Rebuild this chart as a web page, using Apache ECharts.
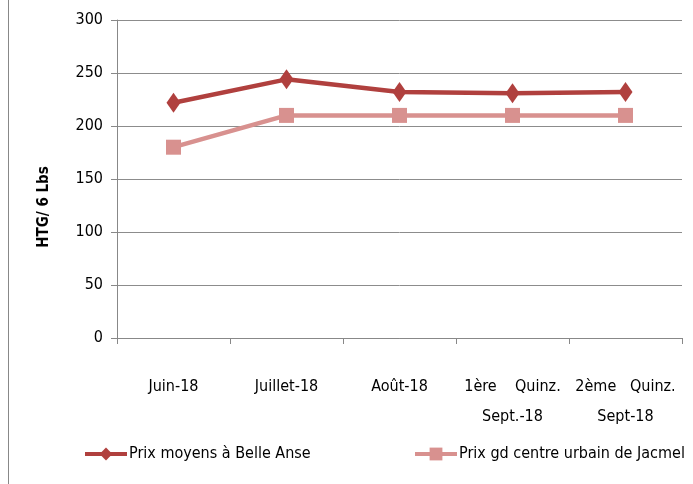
<!DOCTYPE html>
<html>
<head>
<meta charset="utf-8">
<script src="https://cdn.jsdelivr.net/npm/echarts@6/dist/echarts.min.js"></script>
<style>
html, body { margin: 0; padding: 0; background: #fff; }
#chart { width: 693px; height: 484px; }
</style>
</head>
<body>
<div id="chart"></div>
<script>
var categories = ['Juin-18', 'Juillet-18', 'Août-18', '1ère    Quinz.\nSept.-18', '2ème   Quinz.\nSept-18'];
var belleAnse = [222, 244, 232, 231, 232];
var jacmel = [180, 210, 210, 210, 210];
var seriesNames = ['Prix moyens à Belle Anse', 'Prix gd centre urbain de Jacmel'];
var yAxisTitle = 'HTG/ 6 Lbs';

var font = '"DejaVu Sans Condensed", "Liberation Sans", sans-serif';
var chart = echarts.init(document.getElementById('chart'));

function legendAt(name, left) {
	return {
		data: [name],
		top: 441,
		left: left,
		itemWidth: 42,
		itemHeight: 16,
		lineStyle: { width: 4 },
		textStyle: { fontFamily: font, fontSize: 16, color: '#000', padding: [0, 0, 0, -3] }
	};
}

var option = {
	backgroundColor: '#fff',
	animation: false,
	textStyle: { fontFamily: font },
	graphic: [{
		type: 'line',
		shape: { x1: 8.5, y1: 0, x2: 8.5, y2: 484 },
		style: { stroke: '#888', lineWidth: 1 }
	}, {
		type: 'text',
		x: 44,
		y: 207,
		rotation: Math.PI / 2,
		style: {
			text: yAxisTitle,
			font: 'bold 15px "DejaVu Sans Condensed", sans-serif',
			fill: '#000',
			align: 'center',
			verticalAlign: 'middle'
		}
	}],
	grid: { left: 117, right: 11, top: 20, bottom: 146 },
	legend: [legendAt(seriesNames[0], 78), legendAt(seriesNames[1], 408)],
	xAxis: {
		type: 'category',
		data: categories,
		boundaryGap: true,
		axisLine: { lineStyle: { color: '#888' } },
		axisTick: { show: true, length: 6, lineStyle: { color: '#888' } },
		axisLabel: { color: '#000', fontSize: 16, margin: 34, lineHeight: 30, interval: 0, fontFamily: font }
	},
	yAxis: {
		type: 'value',
		min: 0,
		max: 300,
		interval: 50,
		axisLine: { show: true, lineStyle: { color: '#888' } },
		axisTick: { show: true, length: 6, lineStyle: { color: '#888' } },
		axisLabel: { color: '#000', fontSize: 16, margin: 14, fontFamily: font },
		splitLine: { lineStyle: { color: '#8c8c8c' } }
	},
	series: [{
		name: seriesNames[0],
		type: 'line',
		data: belleAnse,
		symbol: 'diamond',
		symbolSize: [14, 20],
		color: '#B0403E',
		lineStyle: { width: 4.5, color: '#B0403E' },
		itemStyle: { color: '#B0403E' }
	}, {
		name: seriesNames[1],
		type: 'line',
		data: jacmel,
		symbol: 'rect',
		symbolSize: 15,
		color: '#D8918F',
		lineStyle: { width: 4.5, color: '#D8918F' },
		itemStyle: { color: '#D8918F' }
	}]
};

chart.setOption(option);
</script>
</body>
</html>
